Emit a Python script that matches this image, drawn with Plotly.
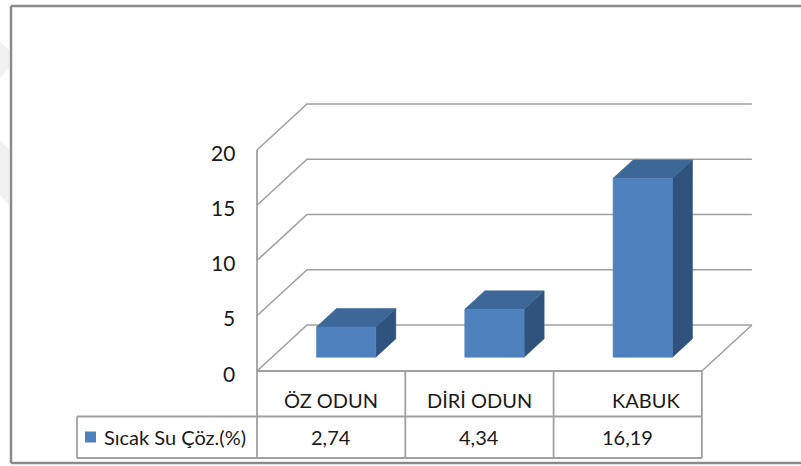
import plotly.graph_objects as go

# ---- data -------------------------------------------------------------
categories = ["ÖZ ODUN", "DİRİ ODUN", "KABUK"]
series_name = "Sıcak Su Çöz.(%)"
values = [2.74, 4.34, 16.19]
value_labels = ["2,74", "4,34", "16,19"]
y_ticks = [0, 5, 10, 15, 20]

# ---- geometry of the 3-D box on screen ---------------------------------
W, H = 801, 466
ORIGIN = (257, 371)      # front-left corner of the floor (px)
CAT_PX = 148.3           # width of one category along the front edge (px)
UNIT_PX = 11.05          # px per value unit on the front plane
DEPTH_PX = (50, -46)     # shift from the front plane to the back wall (px)
GAP = 0.3                # gap on each side of a column (fraction of a category / depth)

DX = DEPTH_PX[0] / CAT_PX
DY = -DEPTH_PX[1] / UNIT_PX
X_RANGE = [-ORIGIN[0] / CAT_PX, (W - ORIGIN[0]) / CAT_PX]
Y_RANGE = [(ORIGIN[1] - H) / UNIT_PX, ORIGIN[1] / UNIT_PX]


def xd(px):
    return (px - ORIGIN[0]) / CAT_PX


def yd(py):
    return (ORIGIN[1] - py) / UNIT_PX


FONT = "Lato, Liberation Sans, Arial, sans-serif"
TXT = "#1a1a1a"
GRID = "#a0a0a0"
FRONT, TOP, SIDE = "#4f81bd", "#3c6797", "#30527f"

n = len(categories)
fig = go.Figure()

# walls: gridlines on the side wall and the back wall, floor outline
gx, gy = [], []
for t in y_ticks:
    gx += [0, DX, n + DX, None]
    gy += [t, t + DY, t + DY, None]
gx += [n, n + DX, None]
gy += [0, DY, None]
fig.add_trace(go.Scatter(x=gx, y=gy, mode="lines",
                         line=dict(color=GRID, width=1.6), hoverinfo="skip"))

# columns: side, top and front faces
for i, v in enumerate(values):
    x0, x1 = i + GAP, i + 1 - GAP
    d0, d1 = GAP, 1 - GAP
    side = ([x1 + d0 * DX, x1 + d1 * DX, x1 + d1 * DX, x1 + d0 * DX, x1 + d0 * DX],
            [d0 * DY, d1 * DY, v + d1 * DY, v + d0 * DY, d0 * DY])
    top = ([x0 + d0 * DX, x1 + d0 * DX, x1 + d1 * DX, x0 + d1 * DX, x0 + d0 * DX],
           [v + d0 * DY, v + d0 * DY, v + d1 * DY, v + d1 * DY, v + d0 * DY])
    front = ([x0 + d0 * DX, x1 + d0 * DX, x1 + d0 * DX, x0 + d0 * DX, x0 + d0 * DX],
             [d0 * DY, d0 * DY, v + d0 * DY, v + d0 * DY, d0 * DY])
    for (fx, fy), col in ((side, SIDE), (top, TOP), (front, FRONT)):
        fig.add_trace(go.Scatter(x=fx, y=fy, mode="lines", fill="toself",
                                 fillcolor=col, line=dict(color=col, width=0.6),
                                 hoverinfo="skip"))

# data table under the plot
row_mid, row_bot = yd(416.5), yd(458)
leg_left = xd(77)
tx = [0, n, None, leg_left, n, None, leg_left, n, None, leg_left, leg_left, None]
ty = [0, 0, None, row_mid, row_mid, None, row_bot, row_bot, None, row_mid, row_bot, None]
for k in range(n + 1):
    tx += [k, k, None]
    ty += [row_bot, 0 if k else max(y_ticks), None]
fig.add_trace(go.Scatter(x=tx, y=ty, mode="lines",
                         line=dict(color=GRID, width=1.8), hoverinfo="skip"))

# legend key in the table
fig.add_trace(go.Scatter(x=[xd(90.5)], y=[yd(437)], mode="markers",
                         marker=dict(symbol="square", size=11, color=FRONT,
                                     line=dict(width=0)),
                         hoverinfo="skip"))

ann = []
for t in y_ticks:
    ann.append(dict(x=0, y=t, xref="x", yref="y", text=str(t), showarrow=False,
                    xanchor="right", yanchor="middle", xshift=-20, yshift=-2,
                    font=dict(family=FONT, size=21, color=TXT)))
label_shift = [0, 0, 18]
for i, (c, s) in enumerate(zip(categories, value_labels)):
    ann.append(dict(x=i + 0.5, y=yd(400), xref="x", yref="y", text=c,
                    showarrow=False, xanchor="center", yanchor="middle",
                    xshift=label_shift[i],
                    font=dict(family=FONT, size=20, color=TXT)))
    ann.append(dict(x=i + 0.5, y=yd(437), xref="x", yref="y", text=s,
                    showarrow=False, xanchor="center", yanchor="middle",
                    font=dict(family=FONT, size=20, color=TXT)))
ann.append(dict(x=xd(102), y=yd(437), xref="x", yref="y", text=series_name,
                showarrow=False, xanchor="left", yanchor="middle",
                font=dict(family=FONT, size=20, color=TXT)))

# outer chart frame and the faint mark along the left page edge
FRAME = "#8a8a8a"
def pp(px, py):
    return px / W, 1 - py / H

def poly(points):
    pts = [pp(*p) for p in points]
    return "M " + " L ".join(f"{a:.4f},{b:.4f}" for a, b in pts) + " Z"

shapes = [
    dict(type="path", xref="paper", yref="paper", layer="below",
         path=poly([(0, 42), (9, 50), (9, 68), (0, 78)]),
         fillcolor="#f1f1f1", line=dict(width=0)),
    dict(type="path", xref="paper", yref="paper", layer="below",
         path=poly([(0, 140), (9, 150), (9, 205), (0, 195)]),
         fillcolor="#f1f1f1", line=dict(width=0)),
    dict(type="line", xref="paper", yref="paper", x0=11 / W, x1=11 / W,
         y0=1 - 6 / H, y1=1 - 463 / H, line=dict(color=FRAME, width=2.5)),
    dict(type="line", xref="paper", yref="paper", x0=11 / W, x1=1.01,
         y0=1 - 6 / H, y1=1 - 6 / H, line=dict(color=FRAME, width=2.5)),
    dict(type="line", xref="paper", yref="paper", x0=11 / W, x1=1.01,
         y0=1 - 463 / H, y1=1 - 463 / H, line=dict(color=FRAME, width=2.5)),
]

fig.update_layout(
    width=W, height=H, margin=dict(l=0, r=0, t=0, b=0),
    paper_bgcolor="white", plot_bgcolor="white", showlegend=False,
    xaxis=dict(visible=False, range=X_RANGE, fixedrange=True),
    yaxis=dict(visible=False, range=Y_RANGE, fixedrange=True),
    annotations=ann, shapes=shapes,
)

fig.write_html("out.html")
